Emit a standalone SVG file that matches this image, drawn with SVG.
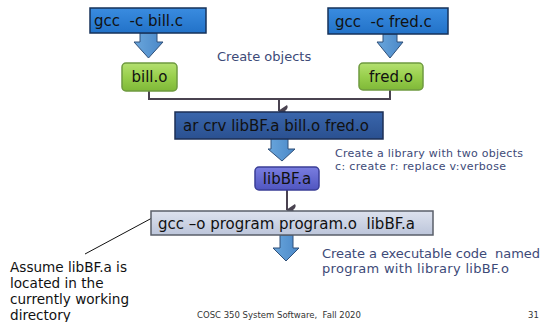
<svg xmlns="http://www.w3.org/2000/svg" width="544" height="322" viewBox="0 0 544 322">
  <defs>
    <linearGradient id="gBlue" x1="0" y1="0" x2="0" y2="1">
      <stop offset="0" stop-color="#3a8ce0"/>
      <stop offset="1" stop-color="#2272c8"/>
    </linearGradient>
    <linearGradient id="gSteel" x1="0" y1="0" x2="0" y2="1">
      <stop offset="0" stop-color="#3a66ac"/>
      <stop offset="1" stop-color="#2a5090"/>
    </linearGradient>
    <linearGradient id="gGreen" x1="0" y1="0" x2="0" y2="1">
      <stop offset="0" stop-color="#b4e070"/>
      <stop offset="0.5" stop-color="#98cf4c"/>
      <stop offset="1" stop-color="#7fb838"/>
    </linearGradient>
    <linearGradient id="gViolet" x1="0" y1="0" x2="0" y2="1">
      <stop offset="0" stop-color="#7a7ee0"/>
      <stop offset="1" stop-color="#5055c0"/>
    </linearGradient>
    <linearGradient id="gGray" x1="0" y1="0" x2="0" y2="1">
      <stop offset="0" stop-color="#dde2ee"/>
      <stop offset="1" stop-color="#bcc5da"/>
    </linearGradient>
    <linearGradient id="gArrow" x1="0" y1="0" x2="1" y2="0">
      <stop offset="0" stop-color="#6aa6dc"/>
      <stop offset="1" stop-color="#4a88c8"/>
    </linearGradient>
    <marker id="vhead" viewBox="0 0 12 12" refX="6" refY="11" markerWidth="12" markerHeight="12" markerUnits="userSpaceOnUse" orient="auto-start-reverse">
      <path d="M0,3 Q3,1 6,5 Q9,1 12,3 L6,12 Z" fill="#4a4350"/>
    </marker>
  </defs>
  <style>
    text { font-family: "DejaVu Sans", Verdana, sans-serif; }
    .box { stroke-width: 1.5; }
    .lbl { font-size: 15px; fill: #111; }
    .note { fill: #3d4a78; }
    .line { fill: none; stroke: #4a4350; stroke-width: 2; }
    .block { fill: url(#gArrow); stroke: #2f4f78; stroke-width: 1; }
  </style>

  <!-- connectors -->
  <g id="connectors">
    <polygon class="block" points="140,33 157,33 157,42 163,42 148.5,58 134,42 140,42"/>
    <polygon class="block" points="383,34 397,34 397,42 403,42 390,58 377,42 383,42"/>
    <polyline class="line" points="149,91 149,99 390,99 390,89"/>
    <line class="line" x1="279" y1="99" x2="279" y2="111" marker-end="url(#vhead)"/>
    <polygon class="block" points="271,138 288,138 288,149 295,149 282,161 268,149 271,149"/>
    <line class="line" x1="287" y1="190" x2="287" y2="210" marker-end="url(#vhead)"/>
    <polygon class="block" points="280,235 293,235 293,248 299,248 286,261 273,248 280,248"/>
    <line x1="152" y1="218" x2="85" y2="254" stroke="#111" stroke-width="1"/>
  </g>

  <g id="node-bill-c">
    <rect class="box" x="90" y="8" width="116" height="25" fill="url(#gBlue)" stroke="#16325a"/>
    <text class="lbl" x="94" y="26" xml:space="preserve">gcc  -c bill.c</text>
  </g>

  <g id="node-fred-c">
    <rect class="box" x="328" y="8" width="120" height="26" fill="url(#gBlue)" stroke="#16325a"/>
    <text class="lbl" x="335" y="27" xml:space="preserve">gcc  -c fred.c</text>
  </g>

  <g id="node-bill-o">
    <rect class="box" x="122" y="63" width="55" height="28" rx="4" fill="url(#gGreen)" stroke="#6f9a40" stroke-width="1"/>
    <text class="lbl" x="149.5" y="82" text-anchor="middle">bill.o</text>
  </g>

  <g id="node-fred-o">
    <rect class="box" x="359" y="63" width="64" height="27" rx="4" fill="url(#gGreen)" stroke="#6f9a40" stroke-width="1"/>
    <text class="lbl" x="391" y="82" text-anchor="middle">fred.o</text>
  </g>

  <text class="note" x="217" y="61" font-size="13">Create objects</text>

  <g id="node-ar">
    <rect class="box" x="175" y="112" width="208" height="27" fill="url(#gSteel)" stroke="#1c2f55"/>
    <text class="lbl" x="183" y="131">ar crv libBF.a bill.o fred.o</text>
  </g>

  <text class="note" x="335" y="157" font-size="11" textLength="188">Create a library with two objects</text>
  <text class="note" x="335" y="169.5" font-size="11" textLength="171">c: create r: replace v:verbose</text>

  <g id="node-lib">
    <rect class="box" x="255" y="167" width="64" height="23" rx="4" fill="url(#gViolet)" stroke="#3a3e96" stroke-width="1"/>
    <text class="lbl" x="287" y="184" text-anchor="middle">libBF.a</text>
  </g>

  <g id="node-gcc-program">
    <rect class="box" x="151" y="211" width="282" height="24" fill="url(#gGray)" stroke="#5a5f6a"/>
    <text class="lbl" x="158" y="229" xml:space="preserve">gcc –o program program.o  libBF.a</text>
  </g>

  <text class="note" x="322" y="258" font-size="13" textLength="218" xml:space="preserve">Create a executable code  named</text>
  <text class="note" x="322" y="273" font-size="13" textLength="187">program with library libBF.o</text>

  <g font-size="13.6" fill="#111">
    <text x="10" y="272">Assume libBF.a is</text>
    <text x="10" y="288">located in the</text>
    <text x="10" y="304">currently working</text>
    <text x="10" y="320">directory</text>
  </g>

  <text x="197" y="318" font-size="8.5" fill="#333" xml:space="preserve">COSC 350 System Software,  Fall 2020</text>
  <text x="528" y="318" font-size="8.5" fill="#333">31</text>
</svg>
